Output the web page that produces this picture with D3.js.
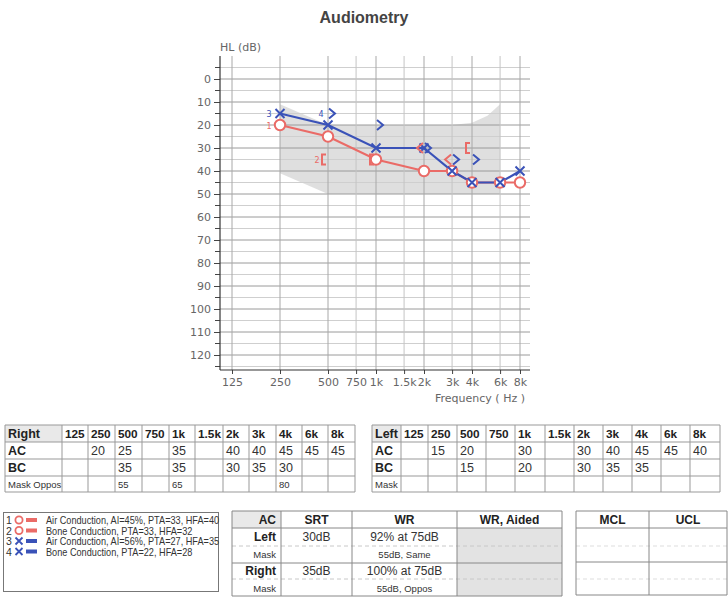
<!DOCTYPE html>
<html><head><meta charset="utf-8">
<script src="https://cdn.jsdelivr.net/npm/d3@7"></script>
<style>
body{margin:0;background:#fff;}
svg{display:block;font-family:"Liberation Sans",Arial,sans-serif;}
</style></head><body>
<svg id="c" width="728" height="600"></svg>
<script>
// ---------- data ----------
const frequencies = [125,250,500,750,1000,1500,2000,3000,4000,6000,8000];
const freqLabels  = ["125","250","500","750","1k","1.5k","2k","3k","4k","6k","8k"];
const dbTicks     = [0,10,20,30,40,50,60,70,80,90,100,110,120];
const rightAC   = [null,20,25,null,35,null,40,40,45,45,45];
const rightBC   = [null,null,35,null,35,null,30,35,30,null,null];
const rightMask = [null,null,55,null,65,null,null,null,80,null,null];
const leftAC    = [null,15,20,null,30,null,30,40,45,45,40];
const leftBC    = [null,null,15,null,20,null,30,35,35,null,null];
const leftMask  = [null,null,null,null,null,null,null,null,null,null,null];
const bananaFreq = [250,500,3000,4000,5000,6000,6000,500,250];
const bananaDb   = [11,20,20,19,16,11,50,50,41];
const legendNums  = ["1","2","3","4"];
const legendTexts = ["Air Conduction, AI=45%, PTA=33, HFA=40","Bone Conduction, PTA=33, HFA=32",
                     "Air Conduction, AI=56%, PTA=27, HFA=35","Bone Conduction, PTA=22, HFA=28"];
const legendEars  = ["R","R","L","L"];
const speechHeaders = ["AC","SRT","WR","WR, Aided"];
const speechLabels  = ["Left","Right"];
const speechSRT     = ["30dB","35dB"];
const speechWR      = ["92% at 75dB","100% at 75dB"];
const speechMask    = ["55dB, Same","55dB, Oppos"];
const mclHeaders = ["MCL","UCL"];

const RED = "#ea6b67", BLUE = "#3a52b8";
const svg = d3.select("#c");

// ---------- title ----------
svg.append("text").attr("x",364).attr("y",23).attr("text-anchor","middle")
  .attr("font-size",16).attr("font-weight","bold").attr("fill","#444").text("Audiometry");

// ---------- scales ----------
const x = d3.scaleLog().base(2).domain([125,8000]).range([232,520]);
const y = d3.scaleLinear().domain([0,120]).range([79,355]);
const X0 = 220, X1 = 530, Y0 = y(-10), Y1 = 370;
const g = svg.append("g").attr("font-family","'DejaVu Sans',sans-serif");

// banana
const banana = bananaFreq.map((f,i)=>[x(f), y(bananaDb[i])]);
g.append("path").attr("d", d3.line()(banana)+"Z").attr("fill","#dcdcdc").attr("opacity",0.9);

// grid horizontal
const minorDb = d3.range(-5,126,5);
g.selectAll(".hg").data(minorDb).join("line")
  .attr("x1",X0).attr("x2",X1).attr("y1",d=>y(d)).attr("y2",d=>y(d))
  .attr("stroke", d=>d%10===0 ? "#9a9a9a" : "#cfcfcf").attr("stroke-width",1);
// grid vertical
g.selectAll(".vg").data(frequencies).join("line")
  .attr("x1",d=>x(d)).attr("x2",d=>x(d)).attr("y1",Y0).attr("y2",Y1)
  .attr("stroke", (d,i)=>[0,1,2,4,6,8,10].includes(i) ? "#a8a8a8" : "#c4c4c4").attr("stroke-width",1);

// axes
const yAxis = d3.axisLeft(y).tickValues(dbTicks).tickSize(6).tickPadding(3);
const ya = g.append("g").attr("transform",`translate(${X0},0)`).call(yAxis);
ya.select(".domain").remove();
ya.selectAll("text").attr("font-size",11).attr("fill","#666").attr("font-family","'DejaVu Sans',sans-serif");
ya.selectAll("line").attr("stroke","#444");
g.selectAll(".ymt").data(d3.range(-5,126,10)).join("line")
  .attr("x1",X0-5).attr("x2",X0).attr("y1",d=>y(d)).attr("y2",d=>y(d)).attr("stroke","#444");
g.append("line").attr("x1",X0).attr("x2",X0).attr("y1",Y0).attr("y2",Y1).attr("stroke","#333").attr("stroke-width",1.2);

const xAxis = d3.axisBottom(x).tickValues(frequencies).tickFormat((d,i)=>freqLabels[i]).tickSize(4).tickPadding(4);
const xa = g.append("g").attr("transform",`translate(0,${Y1})`).call(xAxis);
xa.select(".domain").remove();
xa.selectAll("text").attr("font-size",11).attr("fill","#666").attr("font-family","'DejaVu Sans',sans-serif");
xa.selectAll("line").attr("stroke","#444");
g.append("line").attr("x1",X0).attr("x2",X1).attr("y1",Y1).attr("y2",Y1).attr("stroke","#333").attr("stroke-width",1.2);

g.append("text").attr("x",X0).attr("y",51).attr("font-size",11).attr("fill","#666").text("HL (dB)");
g.append("text").attr("x",525).attr("y",402).attr("text-anchor","end").attr("font-size",11).attr("fill","#666").text("Frequency ( Hz )");

// ---------- series ----------
const pts = arr => frequencies.map((f,i)=>({f, v:arr[i], i})).filter(d=>d.v!==null);
const line = d3.line().x(d=>x(d.f)).y(d=>y(d.v));
g.append("path").attr("d",line(pts(rightAC))).attr("fill","none").attr("stroke",RED).attr("stroke-width",2.2);
g.append("path").attr("d",line(pts(leftAC))).attr("fill","none").attr("stroke",BLUE).attr("stroke-width",2.2);

// right AC circles
g.selectAll(".rac").data(pts(rightAC)).join("circle")
  .attr("cx",d=>x(d.f)).attr("cy",d=>y(d.v)).attr("r",5.2)
  .attr("fill","#fff").attr("stroke",RED).attr("stroke-width",2);
// left AC X
g.selectAll(".lac").data(pts(leftAC)).join("path")
  .attr("d",d=>{const cx=x(d.f),cy=y(d.v),s=4.5;return `M${cx-s},${cy-s}L${cx+s},${cy+s}M${cx-s},${cy+s}L${cx+s},${cy-s}`;})
  .attr("stroke",BLUE).attr("stroke-width",2).attr("fill","none");
// right BC: < unmasked, [ masked
g.selectAll(".rbc").data(pts(rightBC)).join("path")
  .attr("d",d=>{const cx=x(d.f),cy=y(d.v);
    return rightMask[d.i]!==null ? `M${cx-2},${cy-5}H${cx-6}V${cy+5}H${cx-2}` : `M${cx-1},${cy-5}L${cx-7},${cy}L${cx-1},${cy+5}`;})
  .attr("stroke",RED).attr("stroke-width",2).attr("fill","none");
// left BC: > unmasked, ] masked
g.selectAll(".lbc").data(pts(leftBC)).join("path")
  .attr("d",d=>{const cx=x(d.f),cy=y(d.v);
    return leftMask[d.i]!==null ? `M${cx+2},${cy-5}H${cx+6}V${cy+5}H${cx+2}` : `M${cx+1},${cy-5}L${cx+7},${cy}L${cx+1},${cy+5}`;})
  .attr("stroke",BLUE).attr("stroke-width",2).attr("fill","none");

// series number labels at first point
const firstLabels = [
  {arr:rightAC, n:"1", c:RED, dx:-11},
  {arr:rightBC, n:"2", c:RED, dx:-11},
  {arr:leftAC,  n:"3", c:BLUE, dx:-11},
  {arr:leftBC,  n:"4", c:BLUE, dx:-7}];
firstLabels.forEach(L=>{const p=pts(L.arr)[0];
  g.append("text").attr("x",x(p.f)+L.dx).attr("y",y(p.v)+3.5).attr("font-size",8).attr("fill",L.c).attr("text-anchor","middle").text(L.n);});

// ---------- frequency tables ----------
function freqTable(x0, colEdges, title, ac, bc, mask, maskLabel){
  const rows=[425,442,459,476,492];
  const t=svg.append("g");
  t.append("rect").attr("x",x0).attr("y",rows[0]).attr("width",colEdges[0]-x0).attr("height",rows[1]-rows[0]).attr("fill","#e9e9e9");
  rows.forEach(r=>t.append("line").attr("x1",x0).attr("x2",colEdges[colEdges.length-1]).attr("y1",r).attr("y2",r).attr("stroke","#999"));
  [x0,...colEdges].forEach(c=>t.append("line").attr("x1",c).attr("x2",c).attr("y1",rows[0]).attr("y2",rows[4]).attr("stroke","#999"));
  const starts=[x0,...colEdges.slice(0,-1)];
  t.append("text").attr("x",x0+3).attr("y",438).attr("font-size",12.5).attr("font-weight","bold").attr("fill","#222").text(title);
  freqLabels.forEach((l,i)=>t.append("text").attr("x",starts[i+1]+3).attr("y",438).attr("font-size",11.8).attr("font-weight","bold").attr("fill","#222").text(l));
  t.append("text").attr("x",x0+3).attr("y",455).attr("font-size",12.5).attr("font-weight","bold").attr("fill","#222").text("AC");
  t.append("text").attr("x",x0+3).attr("y",472).attr("font-size",12.5).attr("font-weight","bold").attr("fill","#222").text("BC");
  t.append("text").attr("x",x0+3).attr("y",488).attr("font-size",9.5).attr("fill","#333").text(maskLabel);
  [[ac,455,12.5],[bc,472,12.5],[mask,488,9.5]].forEach(([arr,yy,fs])=>arr.forEach((v,i)=>{ if(v!==null)
    t.append("text").attr("x",starts[i+1]+3).attr("y",yy).attr("font-size",fs).attr("fill","#333").text(v);}));
}
freqTable(5,[62,88,115,142,169,195,223,249,276,302,328,355],"Right",rightAC,rightBC,rightMask,"Mask Oppos");
freqTable(372,[401,428,457,486,515,545,574,603,632,661,690,720],"Left",leftAC,leftBC,leftMask,"Mask");

// ---------- legend ----------
svg.append("rect").attr("x",3.5).attr("y",512.5).attr("width",215).attr("height",79).attr("fill","none").attr("stroke","#777");
legendTexts.forEach((t,i)=>{
  const by=524+i*10.5, col = legendEars[i]==="R"?RED:BLUE;
  svg.append("text").attr("x",6).attr("y",by).attr("font-size",10.5).attr("fill","#333").text(legendNums[i]);
  if(legendEars[i]==="R") svg.append("circle").attr("cx",19).attr("cy",by-4).attr("r",3.6).attr("fill","none").attr("stroke",col).attr("stroke-width",1.8);
  else svg.append("path").attr("d",`M${15.5},${by-7.5}L${22.5},${by-0.5}M${15.5},${by-0.5}L${22.5},${by-7.5}`).attr("stroke",col).attr("stroke-width",1.8);
  svg.append("rect").attr("x",26).attr("y",by-6).attr("width",11).attr("height",4).attr("fill",col);
  svg.append("text").attr("transform",`translate(46,${by}) scale(0.89,1)`).attr("font-size",10.3).attr("fill","#333").text(t);
});

// ---------- speech table ----------
const sx=[232,281,352,457,562], sy=[511,528,563,596];
const st=svg.append("g");
st.append("rect").attr("x",sx[0]).attr("y",sy[0]).attr("width",sx[1]-sx[0]).attr("height",sy[1]-sy[0]).attr("fill","#e9e9e9");
st.append("rect").attr("x",sx[3]).attr("y",sy[1]).attr("width",sx[4]-sx[3]).attr("height",sy[3]-sy[1]).attr("fill","#e3e3e3");
[546,579].forEach(r=>st.append("line").attr("x1",sx[0]).attr("x2",sx[4]).attr("y1",r).attr("y2",r).attr("stroke","#c8c8c8").attr("stroke-dasharray","4,3"));
sy.forEach(r=>st.append("line").attr("x1",sx[0]).attr("x2",sx[4]).attr("y1",r).attr("y2",r).attr("stroke","#888"));
sx.forEach(c=>st.append("line").attr("x1",c).attr("x2",c).attr("y1",sy[0]).attr("y2",sy[3]).attr("stroke","#888"));
st.append("text").attr("x",276).attr("y",524).attr("text-anchor","end").attr("font-size",12).attr("font-weight","bold").attr("fill","#222").text(speechHeaders[0]);
[1,2,3].forEach(i=>st.append("text").attr("x",(sx[i]+sx[i+1])/2).attr("y",524).attr("text-anchor","middle").attr("font-size",12).attr("font-weight","bold").attr("fill","#222").text(speechHeaders[i]));
speechLabels.forEach((l,i)=>{
  const by=541+i*34;
  st.append("text").attr("x",276).attr("y",by).attr("text-anchor","end").attr("font-size",12).attr("font-weight","bold").attr("fill","#222").text(l);
  st.append("text").attr("x",276).attr("y",by+17).attr("text-anchor","end").attr("font-size",9.5).attr("fill","#333").text("Mask");
  st.append("text").attr("x",(sx[1]+sx[2])/2).attr("y",by).attr("text-anchor","middle").attr("font-size",12).attr("fill","#333").text(speechSRT[i]);
  st.append("text").attr("x",(sx[2]+sx[3])/2).attr("y",by).attr("text-anchor","middle").attr("font-size",12).attr("fill","#333").text(speechWR[i]);
  st.append("text").attr("x",(sx[2]+sx[3])/2).attr("y",by+17).attr("text-anchor","middle").attr("font-size",9.5).attr("fill","#333").text(speechMask[i]);
});

// ---------- MCL/UCL table ----------
const mx=[576,649,727];
const mt=svg.append("g");
[546,579].forEach(r=>mt.append("line").attr("x1",mx[0]).attr("x2",mx[2]).attr("y1",r).attr("y2",r).attr("stroke","#ddd").attr("stroke-dasharray","4,3"));
[511,528,562,595].forEach(r=>mt.append("line").attr("x1",mx[0]).attr("x2",mx[2]).attr("y1",r).attr("y2",r).attr("stroke","#888"));
mx.forEach(c=>mt.append("line").attr("x1",c).attr("x2",c).attr("y1",511).attr("y2",595).attr("stroke","#888"));
mclHeaders.forEach((h,i)=>mt.append("text").attr("x",(mx[i]+mx[i+1])/2).attr("y",524).attr("text-anchor","middle").attr("font-size",12).attr("font-weight","bold").attr("fill","#222").text(h));
</script></body></html>
